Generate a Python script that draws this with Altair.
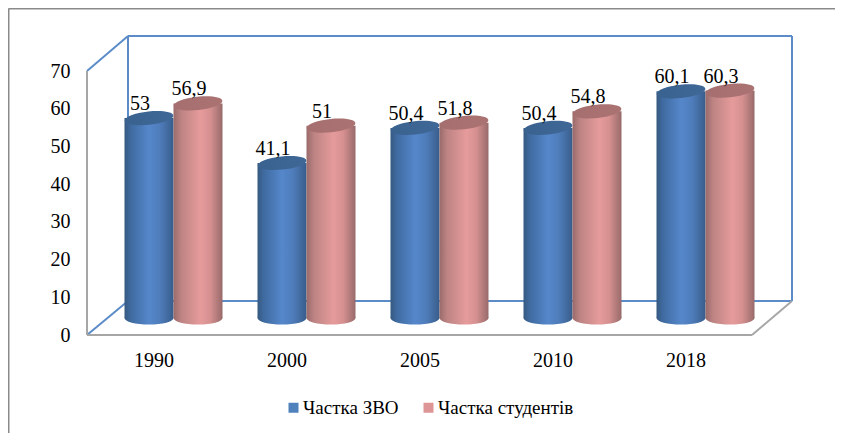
import altair as alt
import pandas as pd

years = ["1990", "2000", "2005", "2010", "2018"]
share_zvo = [53, 41.1, 50.4, 50.4, 60.1]
share_students = [56.9, 51, 51.8, 54.8, 60.3]
series_names = ["Частка ЗВО", "Частка студентів"]
y_ticks = [0, 10, 20, 30, 40, 50, 60, 70]

FONT = "Liberation Serif"
PX_X = 133.0            # pixels per category
PX_Y = 264 / 70         # pixels per value unit
PLOT_W, PLOT_H = 705, 299
X_MAX = PLOT_W / PX_X
Y_MAX = PLOT_H / PX_Y
DX, DY = 41 / PX_X, 34 / PX_Y   # depth of the box
MID_X, BASE = 20 / PX_X, 17 / PX_Y
HALF = 24.5 / PX_X
ELLIPSE = "M-1,0 A1,0.27 0 1,1 1,0 A1,0.27 0 1,1 -1,0 Z"
SIZE = 49 ** 2


def table(values, side):
    rows = []
    for i, v in enumerate(values):
        c = i + 0.5 + MID_X + side * HALF
        rows.append({"x": c, "x0": c - HALF, "x1": c + HALF, "top": v + BASE,
                     "base": BASE, "label": f"{v}".replace(".", ",")})
    return pd.DataFrame(rows)


def grad(stops):
    return alt.Gradient(gradient="linear", x1=0, x2=1, y1=0, y2=0,
                        stops=[alt.GradientStop(offset=o, color=c) for o, c in stops])


blue_body = grad([(0, "#35597f"), (0.12, "#3f6a9f"), (0.5, "#5587cb"), (0.72, "#4f7dbb"), (1, "#385d8b")])
red_body = grad([(0, "#996a6a"), (0.15, "#bd8383"), (0.55, "#e69b9b"), (0.75, "#d69090"), (1, "#986a6a")])
blue_top = grad([(0, "#3a628f"), (1, "#3f6897")])
red_top = grad([(0, "#a66f6f"), (1, "#ab7272")])

x_scale = alt.Scale(domain=[0, X_MAX], nice=False, zero=False)
y_scale = alt.Scale(domain=[0, Y_MAX], nice=False, zero=False)
X = alt.X("x:Q", scale=x_scale, title=None,
          axis=alt.Axis(values=[i + 0.5 for i in range(len(years))],
                        labelExpr="[" + ",".join(f"'{y}'" for y in years) + "][floor(datum.value)]",
                        domain=False, ticks=False, grid=False, labelFont=FONT, labelFontSize=20,
                        labelColor="#000000", labelPadding=15, labelOverlap=False, labelFlush=False))
Y = alt.Y("y:Q", scale=y_scale, title=None,
          axis=alt.Axis(values=y_ticks, domain=False, ticks=False, grid=False, labelFont=FONT,
                        labelFontSize=20, labelColor="#000000", labelPadding=17, labelOverlap=False))

BLUE_LINE, GREY_LINE = "#5b8cc8", "#a6a6a6"
segments = pd.DataFrame([
    # back wall
    {"x": DX, "x2": DX, "y": DY, "y2": 70 + DY + 1 / PX_Y, "c": BLUE_LINE},
    {"x": DX, "x2": X_MAX, "y": 70 + DY + 1 / PX_Y, "y2": 70 + DY + 1 / PX_Y, "c": BLUE_LINE},
    {"x": X_MAX, "x2": X_MAX, "y": DY, "y2": 70 + DY + 1 / PX_Y, "c": BLUE_LINE},
    {"x": DX, "x2": X_MAX, "y": DY, "y2": DY, "c": BLUE_LINE},
    # side wall
    {"x": 0, "x2": DX, "y": 70, "y2": 70 + DY + 1 / PX_Y, "c": BLUE_LINE},
    {"x": 0, "x2": DX, "y": 0, "y2": DY, "c": BLUE_LINE},
    # front edges
    {"x": 0, "x2": 0, "y": 0, "y2": 70, "c": GREY_LINE},
    {"x": 0, "x2": 5, "y": 0, "y2": 0, "c": GREY_LINE},
    {"x": 5, "x2": X_MAX, "y": 0, "y2": DY, "c": GREY_LINE},
])

frame = alt.Chart(segments).mark_rule(strokeWidth=2).encode(
    x=alt.X("x:Q", scale=x_scale), x2="x2:Q", y=alt.Y("y:Q", scale=y_scale), y2="y2:Q",
    color=alt.Color("c:N", scale=None, legend=None))

# outer border of the picture
L_B, T_B = -78.5 / PX_X, Y_MAX + 27.5 / PX_Y
R_B, B_B = (PLOT_W + 60) / PX_X, -(120) / PX_Y
border = alt.Chart(pd.DataFrame([
    {"x": L_B, "x2": R_B, "y": T_B, "y2": T_B},
    {"x": L_B, "x2": L_B, "y": T_B, "y2": B_B},
])).mark_rule(strokeWidth=2, color="#8a8a8a").encode(
    x=alt.X("x:Q", scale=x_scale), x2="x2:Q", y=alt.Y("y:Q", scale=y_scale), y2="y2:Q")

base_axes = alt.Chart(pd.DataFrame({"x": [0.0], "y": [0.0]})).mark_point(size=0, opacity=0).encode(x=X, y=Y)


def cylinders(df, body, top):
    c = alt.Chart(df)
    xq = alt.X("x:Q", scale=x_scale)
    bottom = c.mark_point(shape=ELLIPSE, size=SIZE, filled=True, fill=body, opacity=1, strokeWidth=0).encode(
        x=xq, y=alt.Y("base:Q", scale=y_scale))
    bar = c.mark_bar(fill=body, stroke=None, cornerRadius=0).encode(
        x=alt.X("x0:Q", scale=x_scale), x2="x1:Q", y=alt.Y("top:Q", scale=y_scale), y2="base:Q")
    cap = c.mark_point(shape=ELLIPSE, size=SIZE, angle=354, filled=True, fill=top, opacity=1, strokeWidth=0).encode(
        x=xq, y=alt.Y("top:Q", scale=y_scale))
    return [bottom, bar, cap]


def labels(df):
    return alt.Chart(df).mark_text(font=FONT, fontSize=20, color="#000000", dx=-9, dy=-8,
                                   baseline="alphabetic", align="center").encode(
        x=alt.X("x:Q", scale=x_scale), y=alt.Y("top:Q", scale=y_scale), text="label:N")


blue = table(share_zvo, -1)
red = table(share_students, 1)

legend_layer = alt.Chart(pd.DataFrame({"x": [0.0, 0.0], "y": [0.0, 0.0], "s": series_names})).mark_square(size=0).encode(
    x=alt.X("x:Q", scale=x_scale), y=alt.Y("y:Q", scale=y_scale),
    color=alt.Color("s:N", scale=alt.Scale(domain=series_names, range=["#4f81bd", "#dd9595"]),
                    legend=alt.Legend(title=None, orient="none", legendX=197, legendY=362, direction="horizontal",
                                      symbolType="square", symbolSize=100, symbolStrokeWidth=0, labelFont=FONT,
                                      labelFontSize=19, labelColor="#000000", labelLimit=300, columnPadding=20,
                                      symbolOpacity=1, labelOffset=0)))

layers = [base_axes, border, frame] + cylinders(blue, blue_body, blue_top) + cylinders(red, red_body, red_top) \
    + [labels(blue), labels(red), legend_layer]

chart = alt.layer(*layers).resolve_scale(color="independent").properties(
    width=PLOT_W, height=PLOT_H,
    autosize=alt.AutoSizeParams(type="none"),
    padding={"left": 79, "top": 28, "right": 43, "bottom": 98},
    background="white",
).configure_view(stroke=None)

chart.save("out.html", embed_options={"renderer": "svg", "actions": False})
